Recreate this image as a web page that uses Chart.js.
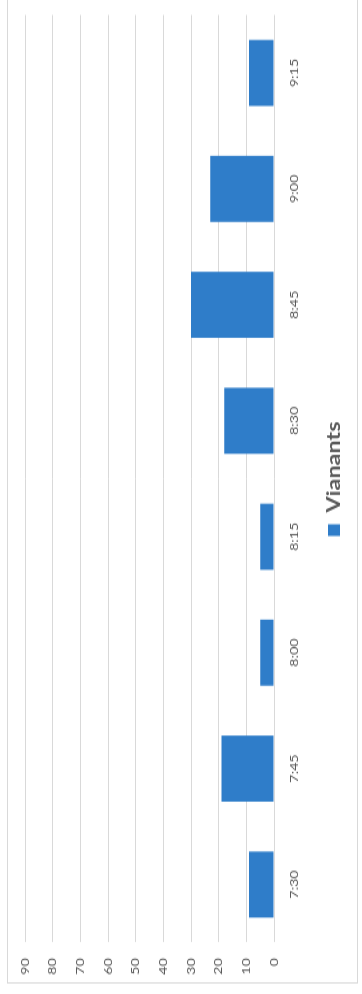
<!DOCTYPE html>
<html>
<head>
<meta charset="utf-8">
<script src="https://cdn.jsdelivr.net/npm/chart.js@4"></script>
<style>
  html, body { margin:0; padding:0; width:362px; height:994px; overflow:hidden; background:#ffffff; }
  #wrap { position:absolute; left:0; top:0; width:765px; height:362px;
          transform-origin:0 0; transform: translateY(994px) rotate(-90deg) scaleX(1.2993); }
  canvas { display:block; }
</style>
</head>
<body>
<div id="wrap"><canvas id="c" width="765" height="362"></canvas></div>
<script>
const categories = ['7:30', '7:45', '8:00', '8:15', '8:30', '8:45', '9:00', '9:15'];
const seriesName = 'Vianants';
const vianants = [9, 19, 5, 5, 18, 30, 23, 9];
const valueMin = 0;
const valueMax = 90;
const valueStep = 10;

const borderPlugin = {
  id: 'outerBorder',
  beforeDraw(chart) {
    const ctx = chart.ctx;
    ctx.save();
    ctx.fillStyle = '#ffffff';
    ctx.fillRect(0, 0, chart.width, chart.height);
    ctx.strokeStyle = '#d9d9d9';
    ctx.lineWidth = 1;
    ctx.strokeRect(8.5, 7.5, chart.width + 20, 350);
    ctx.restore();
  }
};

new Chart(document.getElementById('c'), {
  type: 'bar',
  data: {
    labels: categories,
    datasets: [{
      label: seriesName,
      data: vianants,
      backgroundColor: '#2f7dc9',
      borderWidth: 0,
      categoryPercentage: 1.0,
      barPercentage: 0.57
    }]
  },
  options: {
    responsive: false,
    animation: false,
    devicePixelRatio: 1,
    layout: { padding: { left: 0, right: 11.5, top: 25, bottom: 9 } },
    plugins: {
      tooltip: { enabled: false },
      legend: {
        position: 'bottom',
        fullSize: false,
        labels: {
          color: '#595959',
          font: { family: 'Lato', size: 18, weight: 'bold' },
          boxWidth: 9,
          boxHeight: 12,
          padding: 9
        }
      }
    },
    scales: {
      x: {
        grid: { display: false, drawTicks: false },
        border: { display: false },
        ticks: { color: '#595959', font: { family: 'Lato', size: 11 }, padding: 14, maxRotation: 0 },
        afterFit(scale) { scale.height = 42; }
      },
      y: {
        min: valueMin,
        max: valueMax,
        grid: { color: '#d9d9d9', lineWidth: 1, drawTicks: false },
        border: { display: false },
        ticks: { stepSize: valueStep, color: '#595959', font: { family: 'Lato', size: 11 }, padding: 12 },
        afterFit(scale) { scale.width = 39.6; }
      }
    }
  },
  plugins: [borderPlugin]
});
</script>
</body>
</html>
